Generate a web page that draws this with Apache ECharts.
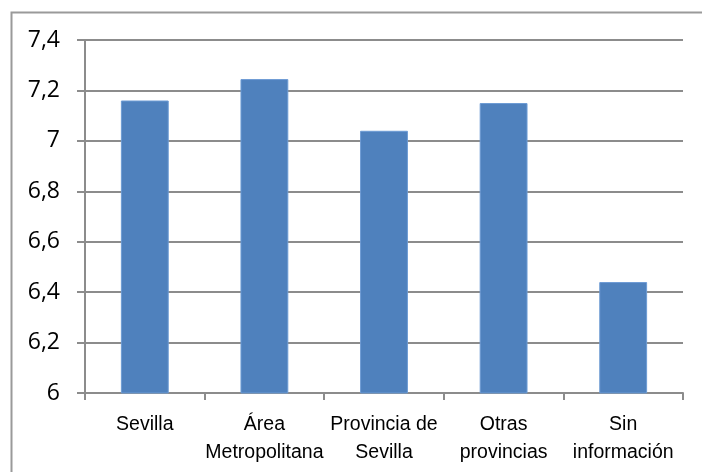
<!DOCTYPE html>
<html>
<head>
<meta charset="utf-8">
<script src="https://cdn.jsdelivr.net/npm/echarts@6/dist/echarts.min.js"></script>
<style>html,body{margin:0;padding:0;background:#fff}#c{width:702px;height:472px}</style>
</head>
<body>
<div id="c"></div>
<script>
const categories = ['Sevilla', 'Área\nMetropolitana', 'Provincia de\nSevilla', 'Otras\nprovincias', 'Sin\ninformación'];
const values = [7.16, 7.245, 7.04, 7.15, 6.44];
const yMin = 6, yMax = 7.4, yStep = 0.2;

const chart = echarts.init(document.getElementById('c'), null, {renderer: 'canvas'});
chart.setOption({
  animation: false,
  backgroundColor: '#ffffff',
  graphic: [{
    type: 'rect', left: 9, top: 10, z: -1,
    shape: {width: 720, height: 480},
    style: {fill: 'none', stroke: '#9a9a9a', lineWidth: 2}
  }],
  grid: {left: 85, right: 19, top: 40, bottom: 79},
  xAxis: {
    type: 'category',
    data: categories,
    axisLine: {lineStyle: {color: '#8c8c8c', width: 2}},
    axisTick: {show: true, length: 7, alignWithLabel: false, lineStyle: {color: '#8c8c8c', width: 2}},
    axisLabel: {color: '#000', fontFamily: 'Liberation Sans', fontSize: 19.5, lineHeight: 28, margin: 18, interval: 0}
  },
  yAxis: {
    type: 'value', min: yMin, max: yMax, interval: yStep,
    axisLine: {show: true, lineStyle: {color: '#8c8c8c', width: 2}},
    axisTick: {show: true, length: 8, lineStyle: {color: '#8c8c8c', width: 2}},
    splitLine: {lineStyle: {color: '#8c8c8c', width: 2}},
    axisLabel: {
      color: '#000', fontFamily: 'Open Sans', fontSize: 23, margin: 25,
      formatter: v => String(Math.round(v * 10) / 10).replace('.', ',')
    }
  },
  series: [{
    type: 'bar',
    data: values,
    barWidth: '40%',
    itemStyle: {color: '#4F81BD', borderColor: '#6d9bd4', borderWidth: 1}
  }]
});
</script>
</body>
</html>
